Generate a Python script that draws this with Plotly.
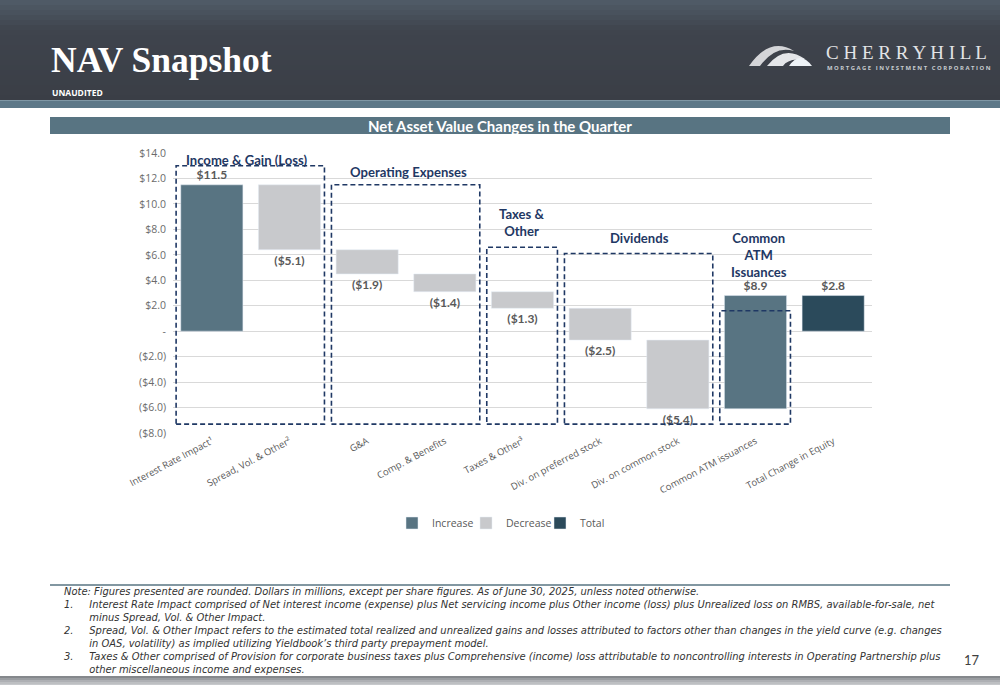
import plotly.graph_objects as go

# ---------------- data ----------------
categories = [
    "Interest Rate Impact¹", "Spread, Vol. & Other²", "G&A", "Comp. & Benefits",
    "Taxes & Other³", "Div. on preferred stock", "Div. on common stock",
    "Common ATM issuances", "Total Change in Equity",
]
changes = [11.5, -5.1, -1.9, -1.4, -1.3, -2.5, -5.4, 8.9]   # relative steps
total_label = "Total Change in Equity"

y_tickvals = [14, 12, 10, 8, 6, 4, 2, 0, -2, -4, -6, -8]
y_ticktext = ["$14.0", "$12.0", "$10.0", "$8.0", "$6.0", "$4.0", "$2.0", "-",
              "($2.0)", "($4.0)", "($6.0)", "($8.0)"]

groups = [  # (label, first index, last index, box top)
    ("Income & Gain (Loss)", 0, 1, 13.0),
    ("Operating Expenses", 2, 3, 11.5),
    ("Taxes &<br>Other", 4, 4, 6.6),
    ("Dividends", 5, 6, 6.1),
    ("Common<br>ATM<br>Issuances", 7, 7, 1.6),
]

note_head = "Note: Figures presented are rounded. Dollars in millions, except per share figures. As of June 30, 2025, unless noted otherwise."
footnotes = [
    ("1.", ["Interest Rate Impact comprised of Net interest income (expense) plus Net servicing income plus Other income (loss) plus Unrealized loss on RMBS, available-for-sale, net",
            "minus Spread, Vol. & Other Impact."]),
    ("2.", ["Spread, Vol. & Other Impact refers to the estimated total realized and unrealized gains and losses attributed to factors other than changes in the yield curve (e.g. changes",
            "in OAS, volatility) as implied utilizing Yieldbook’s third party prepayment model."]),
    ("3.", ["Taxes & Other comprised of Provision for corporate business taxes plus Comprehensive (income) loss attributable to noncontrolling interests in Operating Partnership plus",
            "other miscellaneous income and expenses."]),
]

# ---------------- derived waterfall pieces ----------------
def fmt(v):
    return f"${v:.1f}" if v >= 0 else f"(${-v:.1f})"

inc_x, inc_y, inc_b, inc_t = [], [], [], []
dec_x, dec_y, dec_b, dec_t = [], [], [], []
running = 0.0
for cat, v in zip(categories[:-1], changes):
    if v >= 0:
        inc_x.append(cat); inc_y.append(v); inc_b.append(running); inc_t.append(fmt(v))
    else:
        dec_x.append(cat); dec_y.append(v); dec_b.append(running); dec_t.append(fmt(v))
    running = round(running + v, 4)
tot_x, tot_y, tot_t = [total_label], [running], [fmt(running)]

# ---------------- styles ----------------
C_INC = "#587482"
C_DEC = "#c8c9cc"
C_TOT = "#2b4a5b"
NAVY = "#1f3864"
GRAY_TXT = "#595959"
W, H = 1000, 685


def px(x):
    return x / W


def py(y):
    return 1 - y / H


fig = go.Figure()
label_font = dict(family="Lato", size=12, color=GRAY_TXT, weight="bold")
fig.add_trace(go.Bar(name="Increase", x=inc_x, y=inc_y, base=inc_b, marker_color=C_INC,
                     text=inc_t, textposition="outside", textfont=label_font,
                     width=0.8, cliponaxis=False, hoverinfo="x+text"))
fig.add_trace(go.Bar(name="Decrease", x=dec_x, y=dec_y, base=dec_b, marker_color=C_DEC,
                     text=dec_t, textposition="outside", textfont=label_font,
                     width=0.8, cliponaxis=False, hoverinfo="x+text"))
fig.add_trace(go.Bar(name="Total", x=tot_x, y=tot_y, base=[0], marker_color=C_TOT,
                     text=tot_t, textposition="outside", textfont=label_font,
                     width=0.8, cliponaxis=False, hoverinfo="x+text"))

shapes = []
annotations = []

# header background (vertical gradient)
stops = [(0, (80, 92, 104)), (30, (63, 68, 77)), (100, (58, 62, 70))]
def col_at(y):
    for (y0, c0), (y1, c1) in zip(stops[:-1], stops[1:]):
        if y0 <= y <= y1:
            t = (y - y0) / (y1 - y0)
            return "rgb(%d,%d,%d)" % tuple(round(a + (b - a) * t) for a, b in zip(c0, c1))
    return "rgb(%d,%d,%d)" % stops[-1][1]
for i in range(20):
    y0, y1 = i * 5, i * 5 + 5.5
    shapes.append(dict(type="rect", xref="paper", yref="paper", x0=0, x1=1,
                       y0=py(min(y1, 100)), y1=py(y0), fillcolor=col_at(y0 + 2.5),
                       line_width=0, layer="below"))
shapes.append(dict(type="rect", xref="paper", yref="paper", x0=0, x1=1, y0=py(108), y1=py(100),
                   fillcolor="#5d7888", line_width=0, layer="below"))
shapes.append(dict(type="line", xref="paper", yref="paper", x0=0, x1=1, y0=py(100.5), y1=py(100.5),
                   line=dict(color="#7f97a5", width=1), layer="below"))

# logo swooshes
def path(points_cmds):
    out = []
    for cmd, pts in points_cmds:
        out.append(cmd + " ".join(f"{px(x):.5f},{py(y):.5f}" for x, y in pts))
    return " ".join(out) + " Z"

shapes.append(dict(type="path", xref="paper", yref="paper", line_width=0, fillcolor="#d4d5d8",
                   path=path([("M", [(749, 66)]), ("Q", [(770, 36), (794, 51)]),
                              ("Q", [(775, 45), (760, 66)])])))
shapes.append(dict(type="path", xref="paper", yref="paper", line_width=0, fillcolor="#e4e6e9",
                   path=path([("M", [(767, 66)]), ("Q", [(784, 44), (805, 59)]),
                              ("L", [(797, 59.5)]), ("Q", [(787, 60), (783, 66)])])))
shapes.append(dict(type="path", xref="paper", yref="paper", line_width=0, fillcolor="#eef3f7",
                   path=path([("M", [(789, 66)]), ("Q", [(800, 50), (812, 66)])])))

# chart title bar
shapes.append(dict(type="rect", xref="paper", yref="paper", x0=px(50), x1=px(950),
                   y0=py(134), y1=py(117), fillcolor="#587482", line_width=0, layer="below"))

# footer line and bottom band
shapes.append(dict(type="line", xref="paper", yref="paper", x0=px(50), x1=px(950),
                   y0=py(585), y1=py(585), line=dict(color="#587482", width=1.5)))
for i, c in enumerate(["#85888c", "#9a9da1", "#aeb0b4", "#bdbfc2", "#c7c9cc"]):
    shapes.append(dict(type="rect", xref="paper", yref="paper", x0=0, x1=1,
                       y0=py(676 + 2 * i + 2.2), y1=py(676 + 2 * i), fillcolor=c, line_width=0))

# dashed group boxes + labels
label_pos = {  # annotation anchor (x index, y value)
    "Income & Gain (Loss)": (0.45, 13.45),
    "Operating Expenses": (2.53, 12.5),
    "Taxes &<br>Other": (3.99, 8.5),
    "Dividends": (5.5, 7.3),
    "Common<br>ATM<br>Issuances": (7.04, 6.0),
}
for lbl, i0, i1, top in groups:
    shapes.append(dict(type="rect", xref="x", yref="y", x0=i0 - 0.46, x1=i1 + 0.45,
                       y0=-7.3, y1=top, line=dict(color=NAVY, width=1.6, dash="5px,3px"),
                       fillcolor="rgba(0,0,0,0)", layer="above"))
    lx, ly = label_pos[lbl]
    annotations.append(dict(xref="x", yref="y", x=lx, y=ly, text=lbl, showarrow=False,
                            font=dict(family="Lato", size=13.1, color=NAVY, weight="bold"),
                            align="center", xanchor="center", yanchor="middle"))

# texts
annotations += [
    dict(xref="paper", yref="paper", x=px(49), y=py(60), text="NAV Snapshot", showarrow=False,
         xanchor="left", yanchor="middle",
         font=dict(family="Liberation Serif", size=35.5, color="white", weight="bold")),
    dict(xref="paper", yref="paper", x=px(50), y=py(92), text="UNAUDITED", showarrow=False,
         xanchor="left", yanchor="middle",
         font=dict(family="Open Sans", size=8.5, color="white", weight="bold")),
    dict(xref="paper", yref="paper", x=px(824), y=py(52), text="C H E R R Y H I L L",
         showarrow=False, xanchor="left", yanchor="middle",
         font=dict(family="Liberation Serif", size=19, color="#e2e4e6")),
    dict(xref="paper", yref="paper", x=px(825), y=py(68),
         text="M O R T G A G E   I N V E S T M E N T   C O R P O R A T I O N",
         showarrow=False, xanchor="left", yanchor="middle",
         font=dict(family="Open Sans", size=5.9, color="#c8ccd0", weight="bold")),
    dict(xref="paper", yref="paper", x=0.5, y=py(126), text="Net Asset Value Changes in the Quarter",
         showarrow=False, xanchor="center", yanchor="middle",
         font=dict(family="Lato", size=15, color="white", weight="bold")),
    dict(xref="paper", yref="paper", x=px(962), y=py(660), text="17", showarrow=False,
         xanchor="left", yanchor="middle", font=dict(family="Lato", size=13, color="#404040")),
]

# footnotes as one multi-line block with hanging indent
NB = "\u00a0"
note_lines = [note_head]
for num, parts in footnotes:
    note_lines.append(num + NB * 5 + parts[0])
    for p in parts[1:]:
        note_lines.append(NB * 8 + p)
annotations.append(dict(xref="paper", yref="paper", x=px(62), y=py(630.8),
                        text="<i>" + "<br>".join(note_lines) + "</i>", showarrow=False,
                        xanchor="left", yanchor="middle", align="left",
                        font=dict(family="DejaVu Sans", size=9.95, color="#333333")))

fig.update_layout(
    width=W, height=H,
    margin=dict(l=0, r=0, t=0, b=0, autoexpand=False),
    paper_bgcolor="white", plot_bgcolor="white",
    barmode="overlay",
    showlegend=True,
    legend=dict(orientation="h", x=0.503, y=py(523), xanchor="center", yanchor="middle",
                font=dict(family="Open Sans", size=10.5, color=GRAY_TXT),
                itemwidth=30, entrywidth=29, entrywidthmode="pixels",
                bgcolor="rgba(0,0,0,0)", traceorder="normal"),
    xaxis=dict(domain=[px(173), px(872)], type="category", categoryorder="array",
               categoryarray=categories, range=[-0.5, 8.5], tickangle=-28,
               tickfont=dict(family="Open Sans", size=9.5, color=GRAY_TXT),
               showgrid=False, showline=False, ticks="", fixedrange=True, automargin=False),
    yaxis=dict(domain=[py(433), py(153)], range=[-8, 14], tickvals=y_tickvals,
               ticktext=y_ticktext, showgrid=True, gridcolor="#d9d9d9", gridwidth=1,
               zeroline=True, zerolinecolor="#d9d9d9", zerolinewidth=1,
               tickfont=dict(family="Open Sans", size=10.5, color="#6b6b6b"),
               ticklabelstandoff=6, showline=False, fixedrange=True, automargin=False),
    shapes=shapes,
    annotations=annotations,
)

fig.write_html("out.html", config={"displayModeBar": False},
               post_script="document.body.style.margin='0px';document.body.style.padding='0px';"
                           "document.documentElement.style.overflow='hidden';")
